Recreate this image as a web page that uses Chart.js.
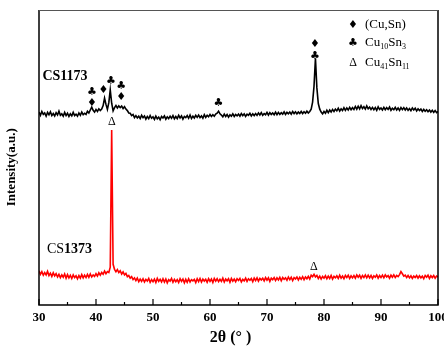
<!DOCTYPE html>
<html>
<head>
<meta charset="utf-8">
<script src="https://cdn.jsdelivr.net/npm/chart.js@4.4.0/dist/chart.umd.min.js"></script>
<style>
  html, body { margin: 0; padding: 0; background: #fff; }
  #wrap { width: 444px; height: 346px; }
</style>
</head>
<body>
<div id="wrap"><canvas id="xrd" width="444" height="346"></canvas></div>
<script>
// scan: 2theta from 30 to 100, step 0.25
const twoThetaStart = 30;
const twoThetaStep = 0.25;
const tickLabels = ['30', '40', '50', '60', '70', '80', '90', '100'];

// CS1173 (black), relative intensity, 4 points per degree
const cs1173 = [
/*30*/ 65.4, 64.3, 65.6, 64.6,
/*31*/ 65.1, 64.0, 65.3, 64.5,
/*32*/ 65.5, 64.2, 64.9, 64.1,
/*33*/ 65.2, 64.4, 65.7, 64.3,
/*34*/ 64.8, 64.0, 65.3, 64.2,
/*35*/ 65.0, 63.9, 64.8, 64.1,
/*36*/ 65.3, 64.2, 64.7, 64.0,
/*37*/ 65.1, 64.3, 65.4, 64.5,
/*38*/ 65.0, 64.6, 65.7, 65.1,
/*39*/ 66.1, 67.1, 66.0, 65.4,
/*40*/ 66.3, 65.6, 66.5, 65.9,
/*41*/ 66.4, 67.6, 70.1, 68.0,
/*42*/ 66.3, 68.6, 72.9, 68.4,
/*43*/ 65.8, 66.9, 67.6, 66.8,
/*44*/ 67.5, 66.9, 67.4, 66.6,
/*45*/ 67.2, 66.4, 65.9, 65.1,
/*46*/ 65.0, 64.2, 64.6, 63.5,
/*47*/ 64.2, 63.4, 64.0, 63.2,
/*48*/ 64.3, 63.5, 64.1, 63.0,
/*49*/ 63.9, 63.2, 64.2, 63.3,
/*50*/ 63.8, 62.9, 64.0, 63.1,
/*51*/ 63.7, 62.8, 63.9, 63.4,
/*52*/ 64.1, 63.0, 63.8, 63.2,
/*53*/ 64.0, 63.3, 64.2, 63.1,
/*54*/ 63.9, 63.2, 64.3, 63.4,
/*55*/ 64.1, 63.0, 63.9, 63.5,
/*56*/ 64.2, 63.3, 64.4, 63.2,
/*57*/ 64.0, 63.4, 64.3, 63.6,
/*58*/ 64.4, 63.5, 64.1, 63.3,
/*59*/ 64.5, 63.6, 64.3, 63.8,
/*60*/ 64.6, 63.9, 64.5, 64.0,
/*61*/ 64.7, 65.0, 65.7, 64.8,
/*62*/ 64.4, 63.8, 64.7, 63.9,
/*63*/ 64.6, 63.7, 64.5, 64.0,
/*64*/ 64.8, 63.9, 64.6, 64.1,
/*65*/ 64.7, 64.0, 64.9, 64.2,
/*66*/ 64.8, 63.9, 64.7, 64.3,
/*67*/ 65.0, 64.1, 64.8, 64.2,
/*68*/ 64.9, 64.3, 65.1, 64.4,
/*69*/ 65.2, 64.3, 64.9, 64.5,
/*70*/ 65.3, 64.4, 65.2, 64.6,
/*71*/ 65.1, 64.5, 65.4, 64.5,
/*72*/ 65.3, 64.6, 65.2, 64.7,
/*73*/ 65.5, 64.6, 65.3, 64.8,
/*74*/ 65.4, 64.7, 65.6, 64.9,
/*75*/ 65.5, 64.8, 65.4, 64.9,
/*76*/ 65.6, 64.9, 65.5, 65.0,
/*77*/ 65.7, 65.1, 65.6, 66.4,
/*78*/ 68.8, 74.2, 83.6, 73.6,
/*79*/ 68.3, 66.4, 65.4, 64.8,
/*80*/ 65.6, 65.0, 66.0, 65.2,
/*81*/ 66.1, 65.4, 66.3, 65.6,
/*82*/ 66.4, 65.8, 66.7, 65.7,
/*83*/ 66.5, 65.9, 66.9, 66.0,
/*84*/ 66.8, 66.1, 67.0, 66.2,
/*85*/ 66.9, 66.3, 67.3, 66.4,
/*86*/ 67.4, 66.5, 67.6, 66.6,
/*87*/ 67.2, 66.4, 67.5, 66.5,
/*88*/ 67.1, 66.3, 67.0, 66.2,
/*89*/ 66.9, 66.0, 67.2, 66.3,
/*90*/ 66.8, 66.1, 67.0, 66.2,
/*91*/ 66.9, 66.3, 67.1, 66.0,
/*92*/ 66.7, 66.2, 67.0, 66.1,
/*93*/ 66.8, 66.0, 66.9, 66.2,
/*94*/ 66.9, 66.1, 66.8, 66.0,
/*95*/ 66.6, 65.9, 66.8, 66.1,
/*96*/ 66.7, 65.8, 66.5, 65.9,
/*97*/ 66.4, 65.6, 66.3, 65.7,
/*98*/ 66.2, 65.5, 66.1, 65.4,
/*99*/ 66.0, 65.3, 65.9, 65.2,
/*100*/ 65.6
];

// CS1373 (red)
const cs1373 = [
/*30*/ 11.6, 10.4, 11.3, 10.1,
/*31*/ 11.0, 10.2, 11.4, 10.0,
/*32*/ 10.8, 9.7, 10.9, 9.9,
/*33*/ 10.6, 9.5, 10.4, 9.3,
/*34*/ 10.2, 9.4, 10.5, 9.1,
/*35*/ 10.3, 9.2, 10.1, 9.0,
/*36*/ 10.2, 9.3, 9.9, 8.9,
/*37*/ 10.0, 9.1, 10.3, 9.2,
/*38*/ 10.1, 9.3, 10.4, 9.4,
/*39*/ 10.5, 9.5, 10.2, 9.7,
/*40*/ 10.6, 9.8, 10.9, 10.1,
/*41*/ 11.0, 10.4, 11.5, 10.6,
/*42*/ 11.3, 11.0, 12.8, 59.3,
/*43*/ 13.8, 12.1, 11.3, 12.0,
/*44*/ 11.0, 11.6, 10.5, 11.2,
/*45*/ 10.2, 10.7, 9.6, 10.0,
/*46*/ 9.1, 9.6, 8.6, 9.2,
/*47*/ 8.3, 9.1, 7.9, 8.8,
/*48*/ 8.0, 8.9, 7.8, 8.7,
/*49*/ 8.1, 9.0, 7.7, 8.6,
/*50*/ 7.9, 8.8, 7.6, 9.0,
/*51*/ 8.0, 8.7, 7.8, 8.9,
/*52*/ 7.8, 8.8, 7.5, 8.6,
/*53*/ 8.1, 9.0, 7.7, 8.7,
/*54*/ 7.9, 8.6, 7.6, 8.9,
/*55*/ 8.0, 8.8, 7.5, 8.7,
/*56*/ 7.7, 8.9, 7.8, 8.6,
/*57*/ 8.2, 8.7, 7.6, 8.9,
/*58*/ 7.9, 9.0, 7.8, 8.8,
/*59*/ 8.1, 8.7, 7.7, 8.9,
/*60*/ 8.0, 8.8, 7.6, 9.0,
/*61*/ 8.1, 8.9, 7.9, 8.7,
/*62*/ 8.0, 9.1, 7.8, 8.8,
/*63*/ 8.2, 8.9, 7.7, 9.0,
/*64*/ 8.1, 8.8, 7.9, 8.9,
/*65*/ 8.3, 9.0, 7.8, 8.7,
/*66*/ 8.2, 9.1, 8.0, 8.9,
/*67*/ 8.4, 9.0, 7.9, 9.1,
/*68*/ 8.3, 9.2, 8.1, 9.0,
/*69*/ 8.5, 9.1, 8.2, 9.3,
/*70*/ 8.4, 9.2, 8.0, 9.1,
/*71*/ 8.6, 9.3, 8.3, 9.2,
/*72*/ 8.5, 9.4, 8.2, 9.3,
/*73*/ 8.7, 9.2, 8.4, 9.5,
/*74*/ 8.6, 9.4, 8.3, 9.3,
/*75*/ 8.8, 9.5, 8.5, 9.4,
/*76*/ 8.7, 9.6, 8.6, 9.5,
/*77*/ 8.9, 9.7, 8.8, 10.1,
/*78*/ 9.6, 10.4, 9.5, 10.0,
/*79*/ 9.0, 9.8, 8.8, 9.7,
/*80*/ 9.1, 9.9, 8.9, 9.8,
/*81*/ 9.0, 10.0, 8.8, 9.7,
/*82*/ 9.2, 9.9, 9.0, 10.1,
/*83*/ 9.1, 9.8, 8.9, 10.0,
/*84*/ 9.3, 10.1, 9.0, 9.9,
/*85*/ 9.2, 10.0, 9.1, 10.2,
/*86*/ 9.4, 10.1, 9.0, 10.0,
/*87*/ 9.3, 10.2, 9.2, 10.1,
/*88*/ 9.2, 10.0, 9.0, 9.9,
/*89*/ 9.4, 10.2, 9.1, 10.0,
/*90*/ 9.3, 10.1, 9.2, 10.2,
/*91*/ 9.5, 10.0, 9.1, 10.1,
/*92*/ 9.4, 10.2, 9.3, 10.0,
/*93*/ 9.6, 10.3, 11.3, 10.6,
/*94*/ 9.8, 10.1, 9.3, 10.0,
/*95*/ 9.2, 9.9, 9.0, 9.8,
/*96*/ 9.3, 10.0, 9.1, 9.9,
/*97*/ 9.2, 9.8, 8.9, 10.0,
/*98*/ 9.4, 10.1, 9.0, 9.9,
/*99*/ 9.3, 10.0, 9.1, 9.8,
/*100*/ 9.5
];

// phase marks above the peaks: 2theta, height, symbol
const markTheta  = [39.3, 39.3, 41.3, 42.6, 44.4, 44.4, 42.8, 61.5, 78.4, 78.4, 78.2];
const markHeight = [72.0, 68.5, 72.9, 76.0, 74.2, 70.4, 62.1, 68.4, 88.4, 84.2, 12.9];
const markSymbol = ['\u2663', '\u2666', '\u2666', '\u2663', '\u2663', '\u2666', '\u0394', '\u2663', '\u2666', '\u2663', '\u0394'];

const serif = '"Liberation Serif", "Times New Roman", serif';
const symFont = '11px "DejaVu Sans", sans-serif';

const toPoints = arr => arr.map((v, i) => ({ x: twoThetaStart + i * twoThetaStep, y: v }));

// text with subscripts, e.g. [['Cu',0],['10',1],['Sn',0],['3',1]]
function drawSubText(ctx, parts, x, y) {
    parts.forEach(([txt, sub]) => {
        ctx.font = sub ? '8px ' + serif : '13px ' + serif;
        ctx.fillText(txt, x, sub ? y + 4 : y);
        x += ctx.measureText(txt).width;
    });
}

const xrdDecor = {
    id: 'xrdDecor',
    afterDatasetsDraw(chart) {
        const { ctx, chartArea: a, scales: { x, y } } = chart;
        ctx.save();

        // frame
        ctx.strokeStyle = '#000';
        ctx.lineWidth = 1.5;
        ctx.beginPath();
        ctx.moveTo(a.left, a.top);
        ctx.lineTo(a.left, a.bottom);
        ctx.lineTo(a.right, a.bottom);
        ctx.lineTo(a.right, a.top);
        ctx.stroke();
        ctx.strokeStyle = '#555';
        ctx.lineWidth = 1;
        ctx.beginPath();
        ctx.moveTo(a.left, a.top + 0.5);
        ctx.lineTo(a.right, a.top + 0.5);
        ctx.stroke();

        // inward ticks on the bottom axis
        ctx.strokeStyle = '#000';
        ctx.lineWidth = 1.2;
        x.ticks.forEach(t => {
            const px = x.getPixelForValue(t.value);
            const len = t.value % 10 === 0 ? 6 : 3;
            ctx.beginPath();
            ctx.moveTo(px, a.bottom);
            ctx.lineTo(px, a.bottom - len);
            ctx.stroke();
        });

        // phase marks
        ctx.fillStyle = '#000';
        ctx.textAlign = 'center';
        ctx.textBaseline = 'middle';
        markTheta.forEach((t, i) => {
            ctx.font = markSymbol[i] === '\u0394' ? '12px ' + serif : symFont;
            ctx.fillText(markSymbol[i], x.getPixelForValue(t), y.getPixelForValue(markHeight[i]));
        });

        // sample names
        ctx.textAlign = 'left';
        ctx.font = 'bold 14px ' + serif;
        ctx.fillText('CS1173', x.getPixelForValue(30.6), y.getPixelForValue(77.6));
        let sx = x.getPixelForValue(31.4);
        const sy = y.getPixelForValue(19.0);
        ctx.font = '14px ' + serif;
        ctx.fillText('CS', sx, sy);
        sx += ctx.measureText('CS').width;
        ctx.font = 'bold 14px ' + serif;
        ctx.fillText('1373', sx, sy);

        // legend
        const lx = a.right - 85;
        const tx = a.right - 73;
        ctx.textAlign = 'center';
        ctx.font = symFont;
        ctx.fillText('\u2666', lx, a.top + 15);
        ctx.fillText('\u2663', lx, a.top + 33);
        ctx.font = '12px ' + serif;
        ctx.fillText('\u0394', lx, a.top + 53);
        ctx.textAlign = 'left';
        ctx.font = '13px ' + serif;
        ctx.fillText('(Cu,Sn)', tx, a.top + 15);
        drawSubText(ctx, [['Cu', 0], ['10', 1], ['Sn', 0], ['3', 1]], tx, a.top + 33);
        drawSubText(ctx, [['Cu', 0], ['41', 1], ['Sn', 0], ['11', 1]], tx, a.top + 53);

        ctx.restore();
    }
};

new Chart(document.getElementById('xrd'), {
    type: 'line',
    data: {
        datasets: [
            { label: 'CS1173', data: toPoints(cs1173), borderColor: '#000', borderWidth: 1.6 },
            { label: 'CS1373', data: toPoints(cs1373), borderColor: '#ff0000', borderWidth: 1.6 }
        ]
    },
    options: {
        responsive: false,
        animation: false,
        devicePixelRatio: 1,
        layout: { padding: { top: 10, right: 6, left: 0, bottom: 0 } },
        elements: { point: { radius: 0 }, line: { tension: 0 } },
        plugins: { legend: { display: false }, tooltip: { enabled: false } },
        scales: {
            x: {
                type: 'linear',
                min: 30,
                max: 100,
                grid: { display: false, drawTicks: false },
                border: { display: false },
                ticks: {
                    stepSize: 5,
                    autoSkip: false,
                    maxRotation: 0,
                    padding: 5,
                    color: '#000',
                    font: { family: serif, size: 13, weight: 'bold' },
                    callback: v => (v % 10 === 0 ? tickLabels[(v - 30) / 10] : '')
                },
                title: {
                    display: true,
                    text: '2\u03b8 (\u00b0 )    ',
                    color: '#000',
                    font: { family: serif, size: 16, weight: 'bold', lineHeight: 1 },
                    padding: { top: 0, bottom: 0 }
                },
                afterFit: s => { s.height = 41; s.paddingLeft = 0; s.paddingRight = 0; }
            },
            y: {
                min: 0,
                max: 100,
                grid: { display: false, drawTicks: false },
                border: { display: false },
                ticks: { display: false },
                title: {
                    display: true,
                    text: 'Intensity(a.u.)      ',
                    color: '#000',
                    font: { family: serif, size: 13, weight: 'bold' },
                    padding: { top: 4, bottom: 0 }
                },
                afterFit: s => { s.width = 39; }
            }
        }
    },
    plugins: [xrdDecor]
});
</script>
</body>
</html>
